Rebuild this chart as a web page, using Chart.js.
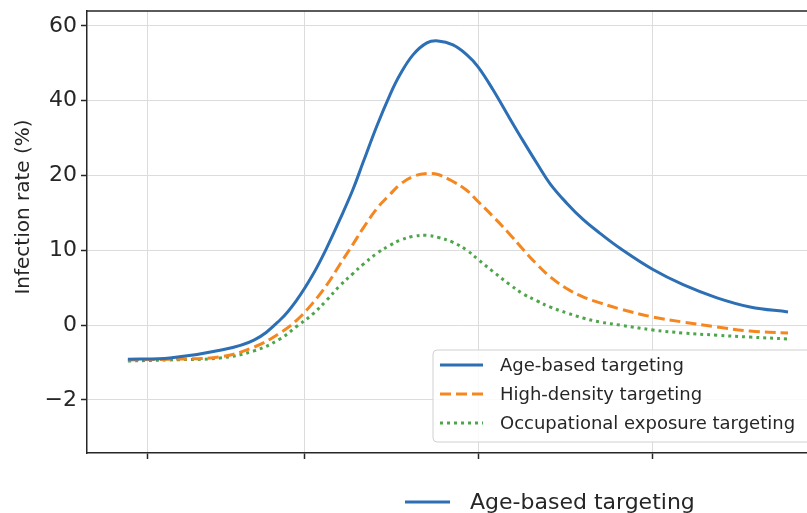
<!DOCTYPE html>
<html>
<head>
<meta charset="utf-8">
<script src="https://cdn.jsdelivr.net/npm/chart.js@4.4.1/dist/chart.umd.min.js"></script>
<style>
    html, body { margin: 0; padding: 0; background: #fff; overflow: hidden; }
    #wrap { width: 845px; height: 513px; }
</style>
</head>
<body>
<div id="wrap"><canvas id="chart" width="845" height="513"></canvas></div>
<script>
// values
const xValues      = [-1.15, 1.26, 4.14, 6.09, 7.59, 8.56, 9.48, 10.29, 11.03, 11.78,
                      12.36, 13.16, 13.91, 14.48, 15.23, 16.03, 16.67, 17.53, 18.33, 18.97,
                      19.83, 20.80, 21.55, 22.36, 23.10, 24.08, 25.00, 25.98, 27.13, 29.02,
                      30.75, 32.70, 34.60, 36.78];
const ageBased     = [-0.91, -0.88, -0.67, -0.40, 0.68, 3.38, 6.76, 10.4, 14.13, 18.13,
                      23.47, 33.33, 41.6, 46.93, 52.27, 55.47, 56.0, 54.93, 52.27, 49.07,
                      42.93, 35.2, 29.33, 23.2, 18.93, 16.27, 14.13, 12.27, 10.27, 7.43,
                      5.41, 3.65, 2.43, 1.76];
const highDensity  = [-0.93, -0.91, -0.85, -0.59, -0.21, 0.68, 2.97, 5.41, 8.11, 10.8,
                      12.93, 15.6, 17.47, 18.8, 19.87, 20.53, 20.27, 19.2, 18.0, 16.53,
                      14.53, 12.13, 10.13, 8.11, 6.49, 4.86, 3.78, 2.97, 2.16, 1.08,
                      0.41, -0.05, -0.16, -0.21];
const occupational = [-0.96, -0.93, -0.88, -0.69, -0.37, -0.03, 1.49, 3.38, 5.27, 6.89,
                      8.11, 9.59, 10.67, 11.33, 11.87, 12.0, 11.73, 11.07, 10.0, 8.78,
                      7.16, 5.41, 4.19, 3.24, 2.43, 1.62, 0.95, 0.41, 0, -0.13,
                      -0.21, -0.27, -0.32, -0.37];

const seriesNames  = ['Age-based targeting', 'High-density targeting', 'Occupational exposure targeting'];
const yTickValues  = [-2, 0, 10, 20, 40, 60];
const yTickLabels  = ['\u22122', '0', '10', '20', '40', '60'];
const xTicks       = [0, 9, 19, 29];

// y axis is spaced by tick index, so map values piecewise between ticks
function toAxis(v) {
    const t = yTickValues;
    if (v <= t[0]) return (v - t[0]) / (t[1] - t[0]);
    for (let i = 0; i < t.length - 1; i++) {
        if (v <= t[i + 1]) return i + (v - t[i]) / (t[i + 1] - t[i]);
    }
    const n = t.length - 1;
    return n + (v - t[n]) / (t[n] - t[n - 1]);
}

const points = arr => arr.map((v, i) => ({ x: xValues[i], y: toAxis(v) }));

const FONT = '"DejaVu Sans", sans-serif';
const TEXT = '#262626';

const decorations = {
    id: 'decorations',
    afterDatasetsDraw(chart) {
        const ctx = chart.ctx;
        const a = chart.chartArea;
        ctx.save();
        // top / right frame
        ctx.strokeStyle = '#262626';
        ctx.lineWidth = 1.5;
        ctx.beginPath();
        ctx.moveTo(a.left, a.top);
        ctx.lineTo(a.right, a.top);
        ctx.lineTo(a.right, a.bottom);
        ctx.stroke();

        // legend inside plot, lower right
        const bx = 433, by = 350, bw = 392, bh = 92;
        ctx.beginPath();
        ctx.roundRect(bx, by, bw, bh, 4);
        ctx.fillStyle = 'rgba(255,255,255,0.85)';
        ctx.fill();
        ctx.strokeStyle = '#d0d0d0';
        ctx.lineWidth = 1;
        ctx.stroke();

        ctx.font = '18px ' + FONT;
        ctx.textBaseline = 'middle';
        chart.data.datasets.forEach((ds, i) => {
            const y = by + 15 + i * 29;
            ctx.strokeStyle = ds.borderColor;
            ctx.lineWidth = ds.borderWidth;
            ctx.setLineDash(ds.borderDash || []);
            ctx.beginPath();
            ctx.moveTo(bx + 7, y);
            ctx.lineTo(bx + 50, y);
            ctx.stroke();
            ctx.setLineDash([]);
            ctx.fillStyle = TEXT;
            ctx.fillText(ds.label, bx + 67, y + 1);
        });
        ctx.restore();
    },
    afterDraw(chart) {
        const ctx = chart.ctx;
        ctx.save();
        // y axis title
        ctx.translate(24, 207);
        ctx.rotate(-Math.PI / 2);
        ctx.font = '20px ' + FONT;
        ctx.fillStyle = TEXT;
        ctx.textAlign = 'center';
        ctx.textBaseline = 'middle';
        ctx.fillText('Infection rate (%)', 0, 0);
        ctx.restore();

        // second legend below the axes (first entry)
        const ds = chart.data.datasets[0];
        ctx.save();
        ctx.strokeStyle = ds.borderColor;
        ctx.lineWidth = ds.borderWidth;
        ctx.beginPath();
        ctx.moveTo(405, 502);
        ctx.lineTo(450, 502);
        ctx.stroke();
        ctx.font = '22px ' + FONT;
        ctx.fillStyle = TEXT;
        ctx.textBaseline = 'middle';
        ctx.fillText(ds.label, 470, 503);
        ctx.restore();
    }
};

const ctx = document.getElementById('chart').getContext('2d');
new Chart(ctx, {
    type: 'line',
    data: {
        datasets: [
            {
                label: seriesNames[0],
                data: points(ageBased),
                borderColor: '#2c6fb4',
                borderWidth: 3
            },
            {
                label: seriesNames[1],
                data: points(highDensity),
                borderColor: '#f58720',
                borderWidth: 3,
                borderDash: [11, 5]
            },
            {
                label: seriesNames[2],
                data: points(occupational),
                borderColor: '#4ea64b',
                borderWidth: 3,
                borderDash: [3, 4]
            }
        ]
    },
    options: {
        responsive: false,
        animation: false,
        devicePixelRatio: 1,
        elements: {
            point: { radius: 0 },
            line: { tension: 0.4, fill: false }
        },
        layout: { padding: { top: 11, right: 14, left: 0, bottom: 0 } },
        scales: {
            x: {
                type: 'linear',
                min: -3.5,
                max: 39.25,
                afterBuildTicks: scale => { scale.ticks = xTicks.map(v => ({ value: v })); },
                afterFit: scale => { scale.height = 60; scale.paddingLeft = 0; scale.paddingRight = 0; },
                ticks: { callback: () => '' },
                grid: { color: '#dcdcdc', lineWidth: 1, tickLength: 6, tickColor: '#262626', tickWidth: 1.5 },
                border: { color: '#262626', width: 1.5 }
            },
            y: {
                type: 'linear',
                min: -0.71,
                max: 5.2,
                afterBuildTicks: scale => { scale.ticks = yTickLabels.map((_, i) => ({ value: i })); },
                afterFit: scale => { scale.width = 87; scale.paddingTop = 0; scale.paddingBottom = 0; },
                ticks: {
                    padding: 4,
                    color: TEXT,
                    font: { family: FONT, size: 22 },
                    callback: value => yTickLabels[value]
                },
                grid: { color: '#dcdcdc', lineWidth: 1, tickLength: 6, tickColor: '#262626', tickWidth: 1.5 },
                border: { color: '#262626', width: 1.5 }
            }
        },
        plugins: {
            legend: { display: false },
            tooltip: { enabled: false },
            title: { display: false }
        }
    },
    plugins: [decorations]
});
</script>
</body>
</html>
